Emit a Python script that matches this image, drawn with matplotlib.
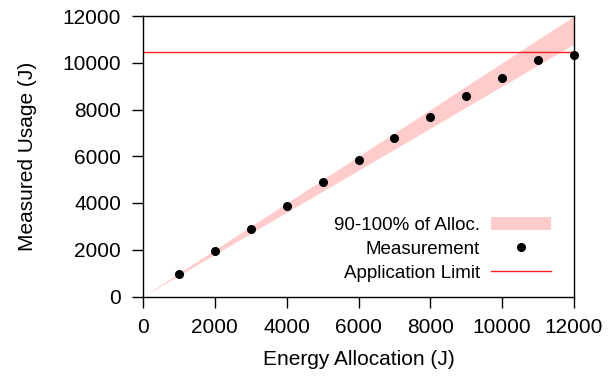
import matplotlib
matplotlib.use("Agg")
import matplotlib.pyplot as plt
import numpy as np

plt.rcParams['font.family'] = ['Liberation Sans', 'DejaVu Sans']

alloc_band = [0, 12000]
band_low_frac = 0.9
band_high_frac = 1.0

alloc = [1000, 2000, 3000, 4000, 5000, 6000, 7000, 8000, 9000, 10000, 11000, 12000]
measured = [975, 1945, 2900, 3870, 4900, 5860, 6800, 7690, 8560, 9330, 10115, 10315]
app_limit = 10445

fig = plt.figure(figsize=(6.08, 3.85), dpi=100)
ax = fig.add_axes([143/608, 1-296.5/385, 431/608, 280.5/385])

xb = np.array(alloc_band, dtype=float)
ax.fill_between(xb, xb*band_low_frac, xb*band_high_frac, color='#ffcccc', lw=0,
                label='90-100% of Alloc.')
ax.plot(alloc, measured, 'o', color='black', ms=5.5, label='Measurement', clip_on=False, zorder=3)
ax.axhline(app_limit, color='#ff2020', lw=1, label='Application Limit')

ax.set_xlim(0, 12000)
ax.set_ylim(0, 12000)
ax.set_xticks(np.arange(0, 12001, 2000))
ax.set_yticks(np.arange(0, 12001, 2000))
ax.tick_params(direction='out', length=7.8, width=1, labelsize=15, top=False, right=False, pad=8)
for s in ax.spines.values():
    s.set_linewidth(1)
ax.set_xlabel('Energy Allocation (J)', fontsize=15, labelpad=9)
ax.set_ylabel('Measured Usage (J)', fontsize=15, labelpad=18)

leg = ax.legend(loc='lower right', bbox_to_anchor=(0.947, 0.053), frameon=False, fontsize=13.5,
                markerfirst=False, handlelength=3.2, labelspacing=0.35, handletextpad=0.6,
                borderaxespad=0, borderpad=0)
for t in leg.get_texts():
    t.set_ha('right')

fig.savefig('out.png', dpi=100)
